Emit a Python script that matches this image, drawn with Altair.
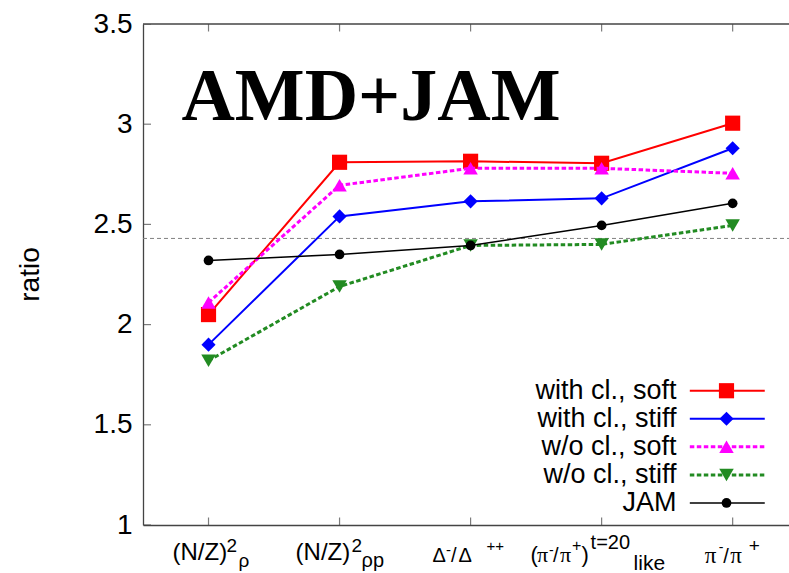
import altair as alt
import pandas as pd

# ---- data -------------------------------------------------------------
CATEGORY_POS = [0, 1, 2, 3, 4]

SERIES_NAMES = ["with cl., soft", "with cl., stiff", "w/o cl., soft", "w/o cl., stiff", "JAM"]
WITH_CL_SOFT = [2.05, 2.81, 2.815, 2.805, 3.005]
WITH_CL_STIFF = [1.90, 2.54, 2.615, 2.63, 2.88]
WO_CL_SOFT = [2.11, 2.695, 2.78, 2.78, 2.755]
WO_CL_STIFF = [1.82, 2.19, 2.395, 2.40, 2.495]
JAM = [2.32, 2.35, 2.395, 2.495, 2.605]
SERIES_VALUES = [WITH_CL_SOFT, WITH_CL_STIFF, WO_CL_SOFT, WO_CL_STIFF, JAM]

REFERENCE_RATIO = 2.43
Y_TICKS = [1, 1.5, 2, 2.5, 3, 3.5]
TITLE_TEXT = "AMD+JAM"

# ---- layout / style ----------------------------------------------------
X_MIN, X_MAX = -0.5, 4.43
Y_MIN, Y_MAX = 1.0, 3.5
SANS = "Liberation Sans"
SERIF = "Liberation Serif"
FRAME = "#444444"

STYLES = [
    dict(color="#ff0000", shape="square", size=230, width=2.0, dash=None),
    dict(color="#0000ff", shape="diamond", size=200, width=2.0, dash=None),
    dict(color="#ff00ff", shape="triangle-up", size=210, width=3.0, dash=[4.5, 2.5]),
    dict(color="#228b22", shape="triangle-down", size=210, width=3.0, dash=[4.5, 2.5]),
    dict(color="#000000", shape="circle", size=95, width=1.5, dash=None),
]

# legend rows (data-space anchors)
LEG_Y = [1.67, 1.53, 1.39, 1.25, 1.11]
LEG_LINE_X0, LEG_LINE_X1, LEG_MARK_X, LEG_TEXT_X = 3.673, 4.245, 3.953, 3.572

# rich-text category labels: (text, dx, dy below axis, size, font)
LABEL_PARTS = [
    [("(N/Z)", -36, 35, 24, SANS), ("2", 18, 27, 19, SANS), ("ρ", 30, 42, 19, SANS)],
    [("(N/Z)", -44, 35, 24, SANS), ("2", 12, 27, 19, SANS), ("ρp", 22, 42, 20, SANS)],
    [("Δ", -38, 37, 20, SANS), ("-", -24.5, 30, 15, SANS), ("/", -19.5, 37, 20, SANS),
     ("Δ", -12, 37, 20, SANS), ("++", 16, 26, 15, SANS)],
    [("(", -71, 37, 22, SANS), ("π", -64.5, 37, 22, SERIF), ("-", -52.5, 30, 14, SANS),
     ("/", -48.5, 37, 20, SANS), ("π", -41.5, 37, 22, SERIF), ("+", -29.5, 26, 16, SANS),
     (")", -20, 37, 22, SANS), ("t=20", -11, 24, 20, SANS), ("like", 32, 45, 21, SANS)],
    [("π", -28, 38, 23, SERIF), ("-", -14, 26.5, 14, SANS), ("/", -9.5, 38, 20, SANS),
     ("π", -2.5, 38, 23, SERIF), ("+", 16, 27, 19, SANS)],
]

one = pd.DataFrame({"k": [0]})

x_scale = alt.Scale(domain=[X_MIN, X_MAX], nice=False, zero=False)
y_scale = alt.Scale(domain=[Y_MIN, Y_MAX], nice=False, zero=False)

x_axis = alt.Axis(labels=False, ticks=False, domain=True, domainColor=FRAME,
                  domainWidth=1.3, grid=False, title=None)
y_axis = alt.Axis(values=Y_TICKS, format="~g", labelFont=SANS, labelFontSize=28,
                  labelColor="black", labelPadding=11, ticks=False, tickSize=0,
                  domainColor=FRAME, domainWidth=1.3, grid=False, labelFlush=False,
                  labelOverlap=False, title="ratio", titleFont=SANS, titleFontSize=28,
                  titleFontWeight="normal", titleColor="black", titleAngle=270,
                  titleX=-105, titleY=250, titleAlign="center", titleBaseline="alphabetic")

layers = []

# frame: top border and dashed reference level
layers.append(
    alt.Chart(one).mark_rule(color=FRAME, strokeWidth=1.3).encode(
        x=alt.XDatum(X_MIN, scale=x_scale, axis=x_axis),
        x2=alt.X2Datum(X_MAX),
        y=alt.YDatum(Y_MAX, scale=y_scale, axis=y_axis),
    )
)
layers.append(
    alt.Chart(one).mark_rule(color="#808080", strokeWidth=1, strokeDash=[4, 3]).encode(
        x=alt.XDatum(X_MIN), x2=alt.X2Datum(X_MAX), y=alt.YDatum(REFERENCE_RATIO)
    )
)

# inward tick marks on bottom, top and left edges
xt = pd.DataFrame({"pos": CATEGORY_POS})
for yv in (Y_MIN, Y_MAX):
    layers.append(
        alt.Chart(xt).mark_tick(orient="vertical", size=15, thickness=1.2, color=FRAME,
                                clip=True).encode(x="pos:Q", y=alt.YDatum(yv))
    )
yt = pd.DataFrame({"v": Y_TICKS})
layers.append(
    alt.Chart(yt).mark_tick(orient="horizontal", size=16, thickness=1.2, color=FRAME,
                            clip=True).encode(y="v:Q", x=alt.XDatum(X_MIN))
)

# series: line then markers, drawn in order
for name, vals, st in zip(SERIES_NAMES, SERIES_VALUES, STYLES):
    df = pd.DataFrame({"pos": CATEGORY_POS, "ratio": vals, "series": name})
    line_kw = dict(color=st["color"], strokeWidth=st["width"])
    if st["dash"]:
        line_kw["strokeDash"] = st["dash"]
    layers.append(alt.Chart(df).mark_line(**line_kw).encode(x="pos:Q", y="ratio:Q"))
    layers.append(
        alt.Chart(df).mark_point(filled=True, opacity=1, shape=st["shape"], size=st["size"],
                                 color=st["color"], strokeWidth=0).encode(x="pos:Q", y="ratio:Q")
    )

# legend: label, line sample and marker per series
for name, ly, st in zip(SERIES_NAMES, LEG_Y, STYLES):
    line_kw = dict(color=st["color"], strokeWidth=st["width"])
    if st["dash"]:
        line_kw["strokeDash"] = st["dash"]
    layers.append(
        alt.Chart(one).mark_rule(**line_kw).encode(
            x=alt.XDatum(LEG_LINE_X0), x2=alt.X2Datum(LEG_LINE_X1), y=alt.YDatum(ly))
    )
    layers.append(
        alt.Chart(one).mark_point(filled=True, opacity=1, shape=st["shape"], size=st["size"],
                                  color=st["color"], strokeWidth=0).encode(
            x=alt.XDatum(LEG_MARK_X), y=alt.YDatum(ly))
    )
    layers.append(
        alt.Chart(one).mark_text(text=name, align="right", baseline="middle", font=SANS,
                                 fontSize=27, color="black").encode(
            x=alt.XDatum(LEG_TEXT_X), y=alt.YDatum(ly))
    )

# category labels with super/subscripts
for pos, parts in zip(CATEGORY_POS, LABEL_PARTS):
    for text, dx, dy, size, font in parts:
        layers.append(
            alt.Chart(one).mark_text(text=text, align="left", baseline="alphabetic", dx=dx,
                                     dy=dy, font=font, fontSize=size, color="black").encode(
                x=alt.XDatum(pos), y=alt.YDatum(Y_MIN))
        )

# big in-plot title
layers.append(
    alt.Chart(one).mark_text(text=TITLE_TEXT, align="left", baseline="alphabetic", font=SERIF,
                             fontSize=74, fontWeight="bold", color="black").encode(
        x=alt.XDatum(-0.207), y=alt.YDatum(3.022))
)

chart = alt.layer(*layers).properties(
    width=646,
    height=501,
    autosize=alt.AutoSizeParams(type="none"),
    padding={"left": 143, "top": 24, "right": 0, "bottom": 48},
    background="white",
).configure_view(stroke=None)

chart.save("out.html", embed_options={"renderer": "svg", "actions": False})
